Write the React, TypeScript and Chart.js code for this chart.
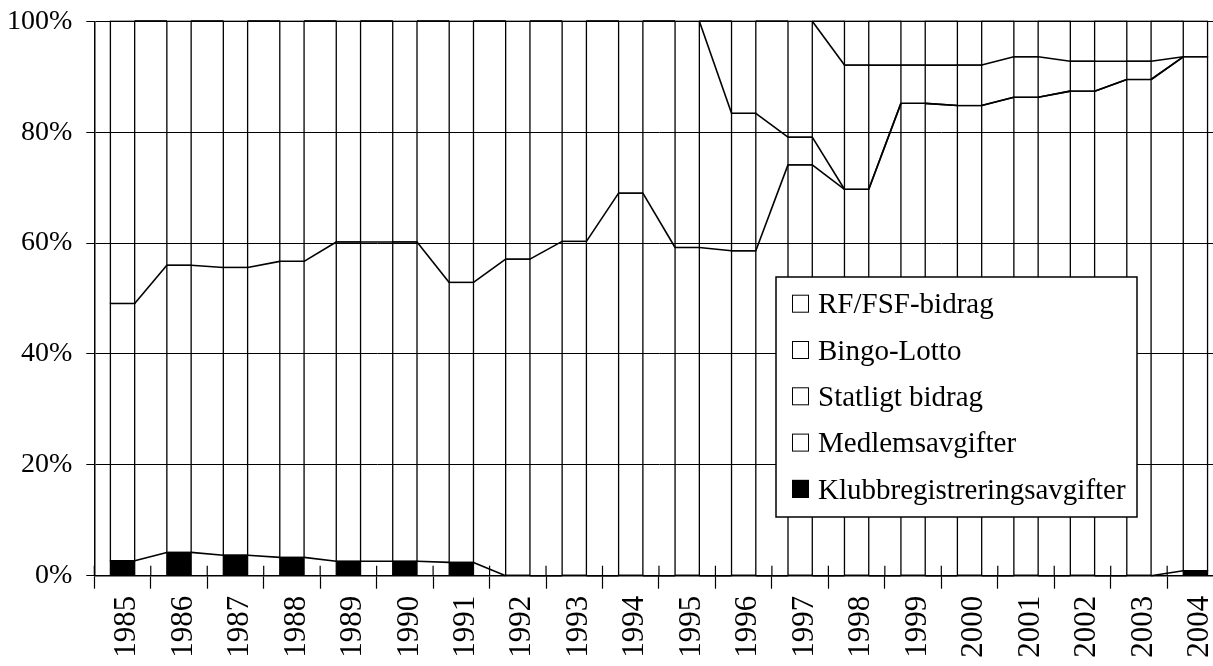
import React, { useEffect, useRef } from 'react';
import { Chart, registerables } from 'chart.js';

Chart.register(...registerables);

const years = ['1985', '1986', '1987', '1988', '1989', '1990', '1991', '1992', '1993', '1994', '1995', '1996', '1997', '1998', '1999', '2000', '2001', '2002', '2003', '2004'];

// shares in percent, stacked bottom -> top
const klubbregistrering = [2.7, 4.2, 3.7, 3.3, 2.6, 2.6, 2.4, 0, 0, 0, 0, 0, 0, 0, 0, 0, 0, 0, 0, 0.9];
const medlemsavgifter = [46.4, 51.8, 51.9, 53.4, 57.6, 57.6, 50.5, 57.1, 60.3, 69.0, 59.2, 58.6, 74.1, 69.7, 85.2, 84.8, 86.3, 87.4, 89.5, 92.7];
const statligtBidrag = [50.9, 44.0, 44.4, 43.3, 39.8, 39.8, 47.1, 42.9, 39.7, 31.0, 40.8, 24.8, 5.0, 0, 0, 0, 0, 0, 0, 0];
const bingoLotto = [0, 0, 0, 0, 0, 0, 0, 0, 0, 0, 0, 16.6, 20.9, 22.4, 6.9, 7.3, 7.3, 5.4, 3.3, 0];
const rfFsfBidrag = [0, 0, 0, 0, 0, 0, 0, 0, 0, 0, 0, 0, 0, 7.9, 7.9, 7.9, 6.4, 7.2, 7.2, 6.4];

const seriesNames = ['Klubbregistreringsavgifter', 'Medlemsavgifter', 'Statligt bidrag', 'Bingo-Lotto', 'RF/FSF-bidrag'];
const seriesFill = ['#000000', 'rgba(255,255,255,0)', 'rgba(255,255,255,0)', 'rgba(255,255,255,0)', 'rgba(255,255,255,0)'];
const legendFill = ['#000000', '#ffffff', '#ffffff', '#ffffff', '#ffffff'];

const yTickValues = [0, 20, 40, 60, 80, 100];

const FONT = "'Liberation Serif', 'Times New Roman', serif";

const seriesLinesPlugin = {
  id: 'seriesLines',
  afterDatasetsDraw(chart: any) {
    const ctx = chart.ctx;
    ctx.save();
    ctx.strokeStyle = '#000';
    // bar outlines
    ctx.lineWidth = 1.3;
    chart.data.datasets.forEach((_ds: any, di: number) => {
      const meta = chart.getDatasetMeta(di);
      meta.data.forEach((el: any) => {
        const h = el.base - el.y;
        if (h < 0.5) return;
        ctx.strokeRect(el.x - el.width / 2, el.y, el.width, h);
      });
    });
    // series lines
    ctx.lineWidth = 1.6;
    chart.data.datasets.forEach((_ds: any, di: number) => {
      const meta = chart.getDatasetMeta(di);
      for (let i = 0; i < meta.data.length - 1; i++) {
        const a = meta.data[i];
        const b = meta.data[i + 1];
        ctx.beginPath();
        ctx.moveTo(a.x + a.width / 2, a.y);
        ctx.lineTo(b.x - b.width / 2, b.y);
        ctx.stroke();
      }
    });
    // small inner tick marks on the category axis
    const xs = chart.scales.x;
    const bottom = chart.chartArea.bottom;
    const half = (xs.getPixelForValue(1) - xs.getPixelForValue(0)) / 2;
    ctx.lineWidth = 1.2;
    for (let i = 0; i <= years.length; i++) {
      const px = xs.getPixelForValue(i) - half;
      ctx.beginPath();
      ctx.moveTo(px, bottom - 10);
      ctx.lineTo(px, bottom);
      ctx.stroke();
    }
    ctx.restore();
  },
};

const legendPlugin = {
  id: 'boxLegend',
  afterDraw(chart: any) {
    const ctx = chart.ctx;
    ctx.save();
    const bx = 776, by = 277, bw = 361, bh = 240;
    ctx.fillStyle = '#fff';
    ctx.fillRect(bx, by, bw, bh);
    ctx.strokeStyle = '#000';
    ctx.lineWidth = 1.5;
    ctx.strokeRect(bx, by, bw, bh);
    ctx.font = `29px ${FONT}`;
    ctx.textBaseline = 'alphabetic';
    ctx.textAlign = 'left';
    const n = seriesNames.length;
    for (let k = 0; k < n; k++) {
      const si = n - 1 - k;
      const cy = 303.7 + k * 46.3;
      ctx.fillStyle = legendFill[si];
      ctx.fillRect(792, cy - 9, 17, 18);
      ctx.lineWidth = 1;
      ctx.strokeStyle = '#000';
      ctx.strokeRect(792.5, cy - 8.5, 16, 17);
      ctx.fillStyle = '#000';
      ctx.fillText(seriesNames[si], 818, cy + 9.6);
    }
    ctx.restore();
  },
};

export default function App() {
  const canvasRef = useRef<HTMLCanvasElement | null>(null);

  useEffect(() => {
    const canvas = canvasRef.current;
    if (!canvas) return;
    const values = [klubbregistrering, medlemsavgifter, statligtBidrag, bingoLotto, rfFsfBidrag];
    const chart = new Chart(canvas, {
      type: 'bar',
      data: {
        labels: years,
        datasets: values.map((v, i) => ({
          label: seriesNames[i],
          data: v,
          backgroundColor: seriesFill[i],
          borderWidth: 0,
          barPercentage: 0.43,
          categoryPercentage: 1,
        })),
      },
      options: {
        responsive: false,
        animation: false,
        devicePixelRatio: 1,
        layout: { padding: { top: 21.3, right: 15.7, bottom: 0, left: 0 } },
        plugins: {
          legend: { display: false },
          tooltip: { enabled: false },
        },
        scales: {
          x: {
            stacked: true,
            afterFit: (s: any) => { s.height = 90.3; },
            grid: {
              display: true,
              drawOnChartArea: false,
              drawTicks: true,
              tickLength: 13,
              tickColor: '#000',
              tickWidth: 1.2,
              offset: true,
            },
            border: { display: true, color: '#000', width: 1.5 },
            ticks: {
              autoSkip: false,
              minRotation: 90,
              maxRotation: 90,
              padding: 7,
              labelOffset: 4.5,
              color: '#000',
              font: { family: FONT, size: 31 },
            },
          },
          y: {
            stacked: true,
            min: 0,
            max: 100,
            afterFit: (s: any) => { s.width = 94.3; s.paddingTop = 0; s.paddingBottom = 0; },
            afterBuildTicks: (s: any) => { s.ticks = yTickValues.map((v) => ({ value: v })); },
            grid: {
              color: '#000',
              lineWidth: 1,
              drawTicks: true,
              tickLength: 8,
              tickColor: '#000',
            },
            border: { display: true, color: '#000', width: 1.5 },
            ticks: {
              padding: 14,
              color: '#000',
              font: { family: FONT, size: 28 },
              callback: (v: any) => `${v}%`,
            },
          },
        },
      },
      plugins: [seriesLinesPlugin, legendPlugin],
    });
    return () => chart.destroy();
  }, []);

  return (
    <div style={{ position: 'fixed', left: 0, top: 0, width: 1213, height: 666, overflow: 'hidden', background: '#fff' }}>
      <canvas ref={canvasRef} width={1240} height={666} style={{ display: 'block' }} />
    </div>
  );
}
